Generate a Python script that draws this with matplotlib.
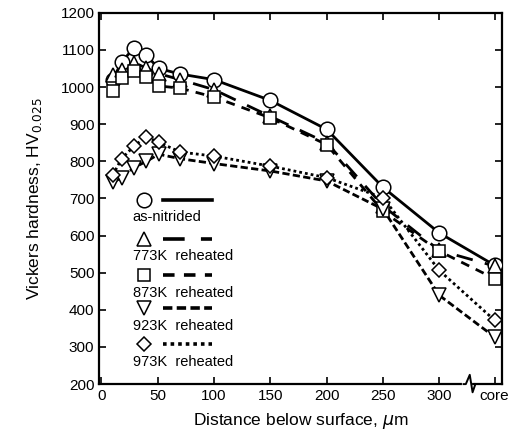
import matplotlib
matplotlib.use("Agg")
import matplotlib.pyplot as plt
from matplotlib.transforms import blended_transform_factory
from matplotlib.lines import Line2D

plt.rcParams['font.family'] = ['Liberation Sans', 'DejaVu Sans']

# ---- data ----
core_pos = 349
depth = [10, 18, 29, 40, 51, 70, 100, 150, 200, 250, 300, core_pos]
as_nitrided = [1018, 1068, 1105, 1085, 1050, 1035, 1020, 964, 886, 730, 607, 520]
k773 = [1033, 1046, 1066, 1051, 1036, 1020, 993, 921, 850, 680, 560, 518]
k873 = [990, 1024, 1044, 1028, 1003, 997, 973, 917, 845, 665, 558, 484]
k923 = [743, 756, 783, 800, 819, 807, 794, 774, 747, 671, 439, 327]
k973 = [762, 807, 841, 866, 851, 825, 814, 787, 756, 702, 506, 372]

labels = ['as-nitrided', '773K  reheated', '873K  reheated', '923K  reheated', '973K  reheated']
series = [as_nitrided, k773, k873, k923, k973]
markers = ['o', '^', 's', 'v', 'D']
msizes = [10.5, 10, 8.5, 10, 7.5]
styles = ['-', (0, (6, 4.5)), (0, (3.2, 2.6)), (0, (2.6, 1.2)), (0, (1.0, 1.1))]

xticks = [0, 50, 100, 150, 200, 250, 300, core_pos]
xticklabels = ['0', '50', '100', '150', '200', '250', '300', 'core']
yticks = list(range(200, 1201, 100))

fig = plt.figure(figsize=(5.19, 4.41), dpi=100)
ax = fig.add_axes([0.1913, 0.129, 0.7757, 0.842])

lw = 2.0
for vals, m, ms, ls in zip(series, markers, msizes, styles):
    ax.plot(depth, vals, linestyle=ls, color='black', linewidth=lw, zorder=2)
for vals, m, ms, ls in zip(series, markers, msizes, styles):
    ax.plot(depth, vals, linestyle='none', marker=m, markersize=ms,
            markerfacecolor='white', markeredgecolor='black', markeredgewidth=1.1, zorder=3)

ax.set_xlim(-1.8, 355.5)
ax.set_ylim(200, 1200)
ax.set_yticks(yticks)
ax.set_xticks(xticks)
ax.set_xticklabels(xticklabels)
ax.tick_params(direction='in', length=5, width=1.2, labelsize=11,
               top=True, right=True)
for sp in ax.spines.values():
    sp.set_linewidth(1.6)

ax.set_xlabel('Distance below surface, $\\mu$m', fontsize=12.5, labelpad=6)
ax.set_ylabel('Vickers hardness, HV$_{0.025}$', fontsize=12.5, labelpad=12)

# axis break on x axis
tr = blended_transform_factory(ax.transData, ax.transAxes)
ax.plot([322.0, 327.5], [0, 0], color='white', linewidth=3, transform=tr, clip_on=False, zorder=5)
ax.plot([321.5, 323.5, 327.0, 329.5, 332.0],
        [0, 0, 0.025, -0.022, 0],
        color='black', linewidth=1.4, transform=tr, clip_on=False, zorder=6)

# legend (custom, inside axes)
leg_marker_x = 0.112
leg_line = (0.158, 0.280)
leg_y = [0.497, 0.392, 0.293, 0.204, 0.107]
for lab, m, ms, ls, yy in zip(labels, markers, msizes, styles, leg_y):
    ax.add_line(Line2D([leg_marker_x], [yy], marker=m, markersize=ms, linestyle='none',
                       markerfacecolor='white', markeredgecolor='black',
                       markeredgewidth=1.1, transform=ax.transAxes))
    ax.add_line(Line2D(list(leg_line), [yy, yy], linestyle=ls, color='black',
                       linewidth=2.6, transform=ax.transAxes))
    ax.text(0.083, yy - 0.047, lab, transform=ax.transAxes, fontsize=10.5,
            ha='left', va='center')

fig.savefig('out.png', dpi=100)
